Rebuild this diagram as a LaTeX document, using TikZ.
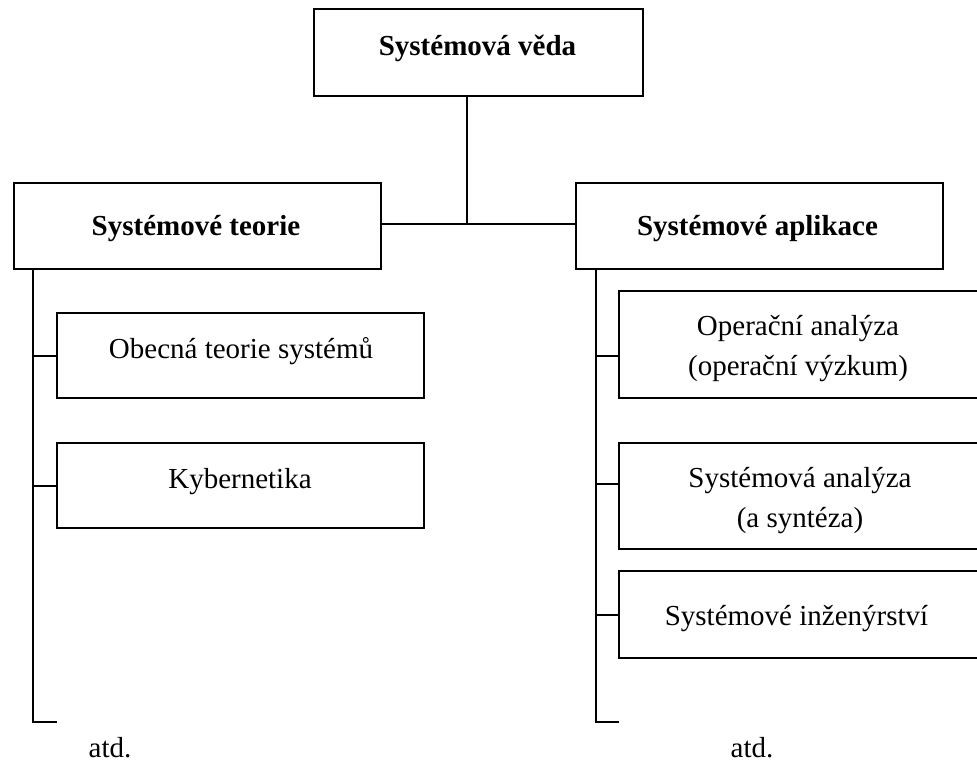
\documentclass[tikz,border=0pt]{standalone}
\usepackage{fontspec}
\setmainfont{Liberation Serif}
\begin{document}
\begin{tikzpicture}[x=1pt,y=-1pt,
  box/.style={draw, line width=2pt, inner sep=0pt, anchor=north west},
  lbl/.style={anchor=base, inner sep=0pt, align=center,
              font=\fontsize{29}{40}\selectfont},
  head/.style={lbl, font=\fontsize{29}{40}\selectfont\bfseries},
  wire/.style={line width=2pt}]
\useasboundingbox (0,0) rectangle (977,763);
\fill[white] (0,0) rectangle (977,763);

% boxes
\node[box, minimum width=329pt, minimum height=87pt] (veda)     at (313,8)   {};
\node[box, minimum width=367pt, minimum height=86pt] (teorie)   at (13,182)  {};
\node[box, minimum width=367pt, minimum height=86pt] (aplikace) at (575,182) {};
\node[box, minimum width=367pt, minimum height=85pt] (obecna)   at (56,312)  {};
\node[box, minimum width=367pt, minimum height=85pt] (kyb)      at (56,442)  {};
\node[box, minimum width=362pt, minimum height=107pt] (oper)    at (618,290) {};
\node[box, minimum width=362pt, minimum height=106pt] (sysan)   at (618,442) {};
\node[box, minimum width=362pt, minimum height=87pt] (syseng)   at (618,570) {};

% texts (multi-line labels are placed by the baseline of their last line)
\node[head] (vedaT)     at (477.5,55) {Systémová věda};
\node[head] (teorieT)   at (196,235)  {Systémové teorie};
\node[head] (aplikaceT) at (757.5,235) {Systémové aplikace};
\node[lbl]  (obecnaT)   at (241,358)  {Obecná teorie systémů};
\node[lbl]  (kybT)      at (240,488)  {Kybernetika};
\node[lbl]  (operT)     at (798,375)  {Operační analýza\\(operační výzkum)};
\node[lbl]  (sysanT)    at (800,527)  {Systémová analýza\\(a syntéza)};
\node[lbl]  (sysengT)   at (796.5,625) {Systémové inženýrství};
\node[lbl, text depth=0pt]  (atdL) at (110,757) {atd.};
\node[lbl, text depth=0pt]  (atdR) at (752,757) {atd.};

% top junction
\coordinate (hub) at (467,224);
\draw[wire] (veda.south -| hub) -- (hub);
\draw[wire] (teorie.east |- hub) -- (aplikace.west |- hub);

% left spine
\coordinate (endL) at (33,722);
\coordinate (tipL) at (57,722);
\draw[wire] (teorie.south -| endL) -- (endL) -- (tipL);
\draw[wire] (obecna.west -| endL) -- (obecna.west);
\draw[wire] (kyb.west -| endL) -- (kyb.west);

% right spine
\coordinate (endR) at (596,722);
\coordinate (tipR) at (619,722);
\coordinate (jOper) at ([yshift=-11.5pt]oper.west);
\coordinate (jSysan) at ([yshift=12pt]sysan.west);
\draw[wire] (aplikace.south -| endR) -- (endR) -- (tipR);
\draw[wire] (jOper -| endR) -- (jOper);
\draw[wire] (jSysan -| endR) -- (jSysan);
\draw[wire] (syseng.west -| endR) -- (syseng.west);
\end{tikzpicture}
\end{document}
